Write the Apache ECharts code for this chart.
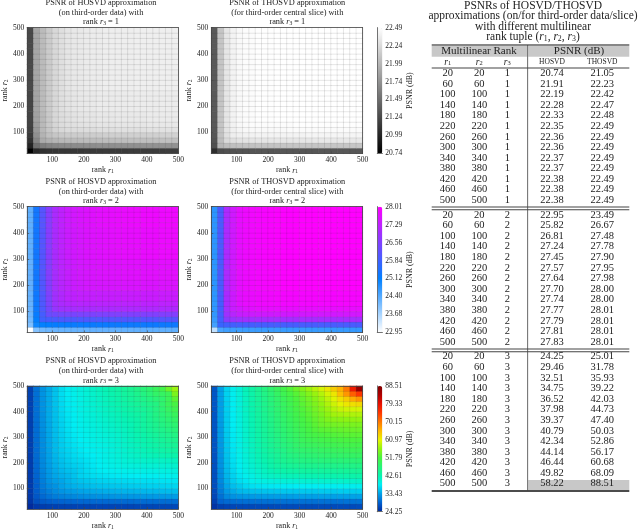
<!DOCTYPE html>
<html><head><meta charset="utf-8">
<style>html,body{margin:0;padding:0;background:#fff}#c{width:640px;height:531px}</style>
<script src="https://cdn.jsdelivr.net/npm/echarts@6/dist/echarts.min.js"></script>
</head><body><div id="c"></div>
<script>
const cellRanks=[20,40,60,80,100,120,140,160,180,200,220,240,260,280,300,320,340,360,380,400,420,440,460,480];
const axisTicks=[100,200,300,400,500];
const tableRanks=[20,60,100,140,180,220,260,300,340,380,420,460,500];
const hosvd1=['20.74','21.91','22.19','22.28','22.33','22.35','22.36','22.36','22.37','22.37','22.38','22.38','22.38'];
const thosvd1=['21.05','22.23','22.42','22.47','22.48','22.49','22.49','22.49','22.49','22.49','22.49','22.49','22.49'];
const hosvd2=['22.95','25.82','26.81','27.24','27.45','27.57','27.64','27.70','27.74','27.77','27.79','27.81','27.83'];
const thosvd2=['23.49','26.67','27.48','27.78','27.90','27.95','27.98','28.00','28.00','28.01','28.01','28.01','28.01'];
const hosvd3=['24.25','29.46','32.51','34.75','36.52','37.98','39.37','40.79','42.34','44.14','46.44','49.82','58.22'];
const thosvd3=['25.01','31.78','35.93','39.22','42.03','44.73','47.40','50.03','52.86','56.17','60.68','68.09','88.51'];
const bar1=[20.74,20.99,21.24,21.49,21.74,21.99,22.24,22.49];
const bar2=[22.95,23.68,24.40,25.12,25.84,26.56,27.29,28.01];
const bar3=[24.25,33.43,42.61,51.79,60.97,70.15,79.33,88.51];

const a0=[20.74,21.02,21.07,21.09,21.10,21.11,21.11,21.12,21.12,21.13,21.13,21.13,21.14,21.14,21.14,21.14,21.15,21.15,21.15,21.15,21.15,21.15,21.16,21.16];
const a1=[20.98,21.50,21.60,21.64,21.66,21.68,21.69,21.70,21.70,21.71,21.71,21.72,21.72,21.72,21.73,21.73,21.73,21.73,21.74,21.74,21.74,21.74,21.74,21.74];
const a2=[21.08,21.66,21.91,21.95,21.98,22.00,22.01,22.02,22.02,22.03,22.03,22.03,22.04,22.04,22.04,22.04,22.05,22.05,22.05,22.05,22.05,22.06,22.06,22.06];
const a3=[21.14,21.73,21.97,22.06,22.10,22.12,22.13,22.14,22.14,22.15,22.15,22.15,22.16,22.16,22.16,22.16,22.17,22.17,22.17,22.17,22.17,22.18,22.18,22.18];
const a4=[21.18,21.78,22.00,22.10,22.19,22.22,22.24,22.25,22.25,22.26,22.26,22.27,22.27,22.27,22.28,22.28,22.28,22.28,22.28,22.29,22.29,22.29,22.29,22.29];
const a5=[21.20,21.82,22.01,22.12,22.21,22.25,22.27,22.28,22.29,22.30,22.30,22.31,22.31,22.31,22.32,22.32,22.32,22.32,22.32,22.33,22.33,22.33,22.33,22.33];
const a6=[21.21,21.85,22.01,22.12,22.22,22.26,22.28,22.30,22.31,22.32,22.32,22.33,22.33,22.33,22.34,22.34,22.34,22.34,22.34,22.35,22.35,22.35,22.35,22.35];
const a8=[21.22,21.87,22.02,22.13,22.22,22.27,22.30,22.32,22.33,22.34,22.34,22.35,22.35,22.35,22.35,22.35,22.36,22.36,22.36,22.36,22.36,22.36,22.36,22.36];
const a12=[21.24,21.88,22.02,22.13,22.22,22.27,22.31,22.33,22.34,22.35,22.36,22.36,22.37,22.37,22.37,22.37,22.37,22.38,22.38,22.38,22.38,22.38,22.38,22.38];
const hosvdRows1=[a0,a1,a2,a3,a4,a5,a6,a6,a8,a8,a8,a8,a12,a12,a12,a12,a12,a12,a12,a12,a12,a12,a12,a12];

const b0=[21.05,21.26,21.29,21.30,21.31,21.31,21.32,21.32,21.32,21.32,21.33,21.33,21.33,21.33,21.33,21.33,21.33,21.34,21.34,21.34,21.34,21.34,21.34,21.34];
const b1=[21.28,21.98,22.03,22.05,22.06,22.07,22.07,22.08,22.08,22.08,22.08,22.09,22.09,22.09,22.09,22.09,22.09,22.09,22.10,22.10,22.10,22.10,22.10,22.10];
const b2=[21.31,22.04,22.23,22.27,22.29,22.30,22.31,22.31,22.31,22.32,22.32,22.32,22.32,22.32,22.32,22.32,22.33,22.33,22.33,22.33,22.33,22.33,22.33,22.33];
const b3=[21.33,22.07,22.28,22.37,22.39,22.40,22.40,22.41,22.41,22.41,22.41,22.41,22.41,22.41,22.41,22.42,22.42,22.42,22.42,22.42,22.42,22.42,22.42,22.42];
const b4=[21.34,22.08,22.30,22.39,22.42,22.44,22.45,22.45,22.45,22.45,22.45,22.45,22.46,22.46,22.46,22.46,22.46,22.46,22.46,22.46,22.46,22.46,22.46,22.46];
const b5=[21.35,22.09,22.31,22.40,22.44,22.46,22.47,22.47,22.47,22.47,22.47,22.47,22.47,22.48,22.48,22.48,22.48,22.48,22.48,22.48,22.48,22.48,22.48,22.48];
const b6=[21.35,22.09,22.32,22.41,22.45,22.47,22.47,22.48,22.48,22.48,22.49,22.49,22.49,22.49,22.49,22.49,22.49,22.49,22.49,22.49,22.49,22.49,22.49,22.49];
const thosvdRows1=[b0,b1,b2,b3,b4,b5,b6,b6,b6,b6,b6,b6,b6,b6,b6,b6,b6,b6,b6,b6,b6,b6,b6,b6];

const c0=[22.95,24.00,24.15,24.20,24.22,24.24,24.25,24.25,24.26,24.26,24.27,24.27,24.27,24.28,24.28,24.28,24.28,24.29,24.29,24.29,24.29,24.30,24.30,24.30];
const c1=[24.05,25.00,25.10,25.15,25.18,25.20,25.20,25.22,25.22,25.23,25.23,25.24,25.24,25.25,25.25,25.25,25.26,25.26,25.26,25.27,25.27,25.27,25.28,25.28];
const c2=[24.15,25.15,25.82,25.90,25.95,25.98,26.00,26.00,26.01,26.02,26.03,26.03,26.04,26.04,26.05,26.05,26.05,26.06,26.06,26.06,26.07,26.07,26.08,26.08];
const c3=[24.20,25.20,25.90,26.30,26.40,26.45,26.48,26.50,26.52,26.53,26.54,26.55,26.55,26.56,26.57,26.57,26.58,26.58,26.59,26.59,26.59,26.60,26.60,26.60];
const c4=[24.22,25.25,25.98,26.42,26.81,26.90,26.95,27.00,27.00,27.02,27.03,27.04,27.05,27.05,27.06,27.06,27.07,27.08,27.08,27.09,27.09,27.10,27.10,27.10];
const c5=[24.25,25.27,26.00,26.50,26.90,27.05,27.12,27.16,27.18,27.19,27.20,27.21,27.22,27.22,27.23,27.23,27.24,27.24,27.24,27.25,27.25,27.25,27.25,27.25];
const c6=[24.25,25.28,26.03,26.55,26.95,27.12,27.24,27.28,27.32,27.33,27.34,27.35,27.36,27.37,27.37,27.38,27.38,27.39,27.39,27.39,27.40,27.40,27.40,27.40];
const c8=[24.27,25.30,26.05,26.60,27.00,27.20,27.30,27.40,27.45,27.50,27.52,27.53,27.54,27.55,27.56,27.57,27.57,27.58,27.58,27.59,27.59,27.60,27.60,27.60];
const c10=[24.28,25.30,26.07,26.62,27.02,27.23,27.35,27.44,27.50,27.54,27.57,27.60,27.62,27.63,27.64,27.65,27.66,27.67,27.67,27.68,27.68,27.69,27.69,27.70];
const c14=[24.30,25.32,26.08,26.65,27.05,27.26,27.40,27.48,27.54,27.60,27.63,27.66,27.68,27.70,27.72,27.73,27.74,27.75,27.76,27.77,27.78,27.79,27.79,27.80];
const c20=[24.30,25.33,26.10,26.66,27.06,27.28,27.42,27.50,27.57,27.62,27.66,27.70,27.72,27.74,27.76,27.77,27.78,27.79,27.80,27.81,27.82,27.82,27.83,27.83];
const hosvdRows2=[c0,c1,c2,c3,c4,c5,c6,c6,c8,c8,c10,c10,c10,c10,c14,c14,c14,c14,c14,c14,c20,c20,c20,c20];

const d0=[23.49,24.50,24.58,24.60,24.61,24.62,24.62,24.63,24.63,24.64,24.64,24.64,24.65,24.65,24.65,24.66,24.66,24.66,24.66,24.67,24.67,24.67,24.68,24.68];
const d1=[24.55,25.75,25.85,25.88,25.89,25.90,25.90,25.91,25.91,25.92,25.92,25.92,25.93,25.93,25.93,25.93,25.94,25.94,25.94,25.94,25.95,25.95,25.95,25.95];
const d2=[24.65,25.85,26.67,26.85,26.90,26.95,26.96,26.97,26.97,26.98,26.98,26.98,26.98,26.99,26.99,26.99,26.99,26.99,27.00,27.00,27.00,27.00,27.00,27.00];
const d3=[24.70,25.88,26.90,27.20,27.35,27.40,27.42,27.45,27.46,27.46,27.47,27.47,27.48,27.48,27.48,27.49,27.49,27.49,27.49,27.50,27.50,27.50,27.50,27.50];
const d4=[24.72,25.90,27.00,27.38,27.48,27.62,27.66,27.70,27.71,27.72,27.72,27.73,27.73,27.73,27.74,27.74,27.74,27.74,27.75,27.75,27.75,27.75,27.75,27.75];
const d5=[24.72,25.90,27.05,27.42,27.66,27.75,27.76,27.82,27.83,27.84,27.85,27.85,27.86,27.86,27.86,27.87,27.87,27.87,27.87,27.88,27.88,27.88,27.88,27.88];
const d6=[24.74,25.92,27.05,27.44,27.68,27.76,27.78,27.82,27.84,27.86,27.88,27.89,27.89,27.90,27.90,27.90,27.91,27.91,27.91,27.91,27.92,27.92,27.92,27.92];
const d8=[24.75,25.95,27.07,27.46,27.72,27.80,27.85,27.88,27.90,27.92,27.95,27.96,27.97,27.98,27.98,27.98,27.99,27.99,27.99,28.00,28.00,28.00,28.00,28.00];
const d12=[24.75,25.95,27.07,27.47,27.73,27.81,27.86,27.90,27.92,27.94,27.96,27.97,27.98,27.99,28.00,28.00,28.00,28.01,28.01,28.01,28.01,28.01,28.01,28.01];
const thosvdRows2=[d0,d1,d2,d3,d4,d5,d6,d6,d8,d8,d8,d8,d12,d12,d12,d12,d12,d12,d12,d12,d12,d12,d12,d12];

const hosvdRows3=[
[24.3,25.4,25.8,26,26.1,26.2,26.3,26.3,26.4,26.4,26.4,26.5,26.5,26.5,26.5,26.5,26.5,26.6,26.6,26.6,26.6,26.7,26.7,26.8],
[25.2,27.4,28.2,28.6,28.9,29,29.1,29.2,29.3,29.3,29.4,29.4,29.4,29.5,29.5,29.5,29.5,29.6,29.6,29.6,29.6,29.7,29.7,29.8],
[25.5,28.1,29.5,30.3,30.9,31.3,31.6,31.8,32,32.2,32.3,32.4,32.5,32.6,32.7,32.7,32.8,32.8,32.9,32.9,33,33,33.1,33.2],
[25.6,28.5,30.2,31.1,32,32.6,33,33.3,33.6,33.8,34,34.1,34.3,34.4,34.5,34.6,34.6,34.7,34.8,34.9,34.9,35,35.1,35.2],
[25.7,28.7,30.7,31.9,32.5,33.5,34.1,34.5,34.8,35.1,35.3,35.5,35.6,35.7,35.8,35.9,36,36.1,36.2,36.3,36.3,36.4,36.5,36.6],
[25.7,28.9,31,32.4,33.3,33.7,34.5,35.1,35.5,35.8,36.1,36.3,36.5,36.6,36.7,36.8,36.9,37,37.1,37.1,37.2,37.3,37.4,37.5],
[25.8,29.1,31.3,32.8,33.8,34.4,34.8,35.5,36.3,36.6,37,37.2,37.4,37.6,37.7,37.8,37.9,38,38.1,38.2,38.3,38.4,38.5,38.6],
[25.8,29.3,31.5,33,34.1,34.8,35.3,35.7,36.3,36.9,37.4,37.8,38.1,38.3,38.5,38.6,38.8,38.9,39,39.1,39.2,39.3,39.4,39.5],
[25.9,29.4,31.7,33.2,34.4,35.2,35.7,36.2,36.5,37.1,37.6,38.1,38.5,38.9,39.2,39.5,39.6,39.8,39.9,40.1,40.2,40.3,40.4,40.6],
[25.9,29.5,31.8,33.4,34.6,35.4,36,36.6,36.9,37.3,37.8,38.3,38.8,39.2,39.6,40,40.3,40.6,40.8,41,41.1,41.2,41.4,41.6],
[25.9,29.6,31.9,33.5,34.8,35.7,36.3,36.9,37.3,37.7,38,38.5,39,39.5,40,40.4,40.8,41.2,41.6,41.9,42.2,42.5,42.8,43],
[26,29.6,32,33.6,35,35.9,36.5,37.1,37.6,38,38.4,38.7,39.1,39.6,40.1,40.6,41.1,41.5,42,42.5,42.9,43.3,43.7,44],
[26,29.7,32,33.7,35,36,36.7,37.3,37.8,38.3,38.7,39,39.4,39.9,40.4,40.9,41.4,41.9,42.4,42.9,43.4,43.9,44.4,44.8],
[26,29.7,32.1,33.8,35.1,36.1,36.9,37.5,38,38.5,39,39.4,39.7,40.1,40.6,41.1,41.7,42.3,42.8,43.3,43.9,44.4,45,45.5],
[26.1,29.8,32.1,33.8,35.2,36.2,37,37.7,38.2,38.7,39.2,39.6,40,40.4,40.8,41.3,41.9,42.5,43.1,43.8,44.4,45,45.6,46.2],
[26.1,29.8,32.2,33.9,35.2,36.3,37.2,37.9,38.4,38.9,39.4,39.8,40.3,40.7,41.2,41.6,42.2,42.9,43.6,44.3,45,45.6,46.3,47],
[26.1,29.8,32.2,33.9,35.3,36.4,37.3,38,38.6,39.1,39.6,40,40.5,41,41.5,41.9,42.3,43,43.8,44.6,45.4,46.2,47,47.8],
[26.1,29.9,32.3,34,35.3,36.5,37.4,38.1,38.7,39.3,39.8,40.3,40.8,41.3,41.8,42.2,42.7,43.2,44,44.9,45.8,46.7,47.6,48.6],
[26.1,29.9,32.3,34,35.4,36.6,37.5,38.2,38.9,39.5,40,40.5,41.1,41.6,42.1,42.6,43.1,43.6,44.1,45.1,46.2,47.2,48.3,49.5],
[26.2,29.9,32.4,34,35.4,36.7,37.6,38.3,39,39.6,40.2,40.8,41.3,41.9,42.4,43,43.5,44,44.6,45.3,46.3,47.6,49,50.5],
[26.2,30,32.4,34,35.5,36.8,37.7,38.4,39.1,39.8,40.4,41,41.6,42.2,42.8,43.3,43.9,44.5,45.1,45.8,46.4,48,49.7,51.5],
[26.2,30,32.4,34,35.5,36.9,37.8,38.5,39.2,39.9,40.6,41.2,41.8,42.4,43,43.7,44.3,45,45.7,46.5,47.4,48,49.8,53],
[26.3,30,32.5,34,35.5,37,37.9,38.7,39.4,40,40.8,41.4,42,42.7,43.3,44,44.6,45.4,46.3,47.3,48.5,49,49.8,55],
[26.3,30.1,32.5,34,35.5,37,38,38.8,39.5,40.2,41,41.7,42.3,43,43.7,44.3,45,46,47,48,49.5,51,54,57]];

const thosvdRows3=[
[25,26,26.4,26.6,26.7,26.8,26.8,26.9,26.9,26.9,27,27,27,27,27,27,27,27,27,27,27,27,27,27.1],
[26,29,29.5,29.7,29.8,29.9,29.9,29.9,30,30,30,30,30,30,30,30,30,30,30,30,30,30.1,30.1,30.2],
[26.6,30,31.8,32.4,32.7,32.9,33,33.1,33.2,33.2,33.3,33.3,33.3,33.4,33.4,33.4,33.4,33.5,33.5,33.5,33.5,33.5,33.6,33.6],
[27,30.8,33,34,34.8,35.1,35.3,35.4,35.5,35.6,35.6,35.7,35.7,35.7,35.8,35.8,35.8,35.9,35.9,35.9,36,36,36,36.1],
[27.2,31.3,33.8,35.2,35.9,36.8,37.2,37.4,37.6,37.7,37.8,37.9,37.9,38,38,38.1,38.1,38.2,38.2,38.3,38.3,38.4,38.4,38.5],
[27.3,31.8,34.4,36,37,37.6,38.6,39,39.3,39.6,39.8,40,40.1,40.2,40.3,40.4,40.5,40.6,40.7,40.7,40.8,40.9,41,41.1],
[27.4,32,34.7,36.4,37.5,38.5,39.2,40.1,40.8,41.2,41.5,41.8,42,42.1,42.3,42.4,42.5,42.6,42.7,42.8,42.9,43,43.1,43.2],
[27.5,32.2,35,36.7,37.9,39,39.9,40.7,41.5,42.2,42.7,43.1,43.4,43.6,43.8,43.9,44,44.1,44.2,44.3,44.4,44.5,44.6,44.7],
[27.5,32.4,35.2,37,38.2,39.4,40.4,41.3,42,43,43.7,44.2,44.6,44.9,45.1,45.3,45.4,45.5,45.6,45.7,45.8,45.9,46,46.1],
[27.6,32.5,35.4,37.2,38.5,39.7,40.8,41.8,42.7,43.4,44.4,45.1,45.6,46,46.3,46.5,46.7,46.9,47,47.1,47.2,47.3,47.4,47.5],
[27.6,32.6,35.5,37.4,38.7,40,41.1,42.2,43.1,44,44.7,45.6,46.3,46.8,47.2,47.5,47.8,48,48.2,48.4,48.5,48.7,48.8,49],
[27.7,32.7,35.6,37.5,38.9,40.2,41.4,42.5,43.5,44.4,45.2,46,47,47.6,48,48.3,48.6,48.9,49.1,49.3,49.5,49.7,49.9,50],
[27.7,32.8,35.7,37.6,39,40.4,41.6,42.8,43.8,44.8,45.7,46.6,47.4,48.3,48.9,49.3,49.6,49.9,50.2,50.4,50.6,50.8,50.9,51],
[27.8,32.9,35.8,37.7,39.1,40.6,41.8,43,44.1,45.1,46,47,47.9,48.7,49.6,50.1,50.5,50.8,51.1,51.4,51.6,51.8,51.9,52],
[27.8,33,35.9,37.8,39.2,40.7,42,43.2,44.3,45.4,46.4,47.4,48.3,49.2,50,50.9,51.4,51.8,52.1,52.4,52.6,52.8,52.9,53],
[27.8,33,36,37.9,39.3,40.8,42.1,43.4,44.5,45.6,46.7,47.7,48.7,49.6,50.5,51.4,52.3,52.8,53.1,53.4,53.6,53.8,53.9,54],
[27.9,33.1,36,38,39.4,40.9,42.3,43.6,44.7,45.8,47,48,49,50,51,51.9,52.9,53.8,54.2,54.5,54.7,54.8,54.9,55],
[27.9,33.2,36.1,38,39.5,41,42.4,43.7,44.9,46,47.2,48.3,49.4,50.4,51.4,52.4,53.4,54.4,55.3,55.8,56,56.2,56.3,56.5],
[27.9,33.2,36.1,38.1,39.6,41.1,42.6,43.9,45.1,46.3,47.5,48.6,49.7,50.8,51.9,52.9,54,55,56.2,57.2,57.5,57.8,57.9,58],
[27.9,33.3,36.2,38.1,39.7,41.3,42.7,44,45.3,46.5,47.8,48.9,50,51.2,52.3,53.4,54.6,55.8,57,58.3,59.2,59.6,59.8,60],
[28,33.3,36.2,38.2,39.7,41.4,42.9,44.2,45.5,46.8,48,49.2,50.4,51.6,52.8,54,55.2,56.5,58,59.5,60.7,62,62.6,63],
[28,33.4,36.3,38.3,39.8,41.5,43,44.4,45.7,47,48.3,49.6,50.8,52,53.3,54.5,55.8,57.2,58.8,60.5,62.5,64,66.5,68],
[28,33.4,36.4,38.4,39.9,41.7,43.2,44.7,46,47.4,48.8,50.2,51.4,52.7,54,55.4,56.8,58.2,60,62,65,68,72,75],
[28,33.5,36.5,38.5,40,42,43.5,45,46.5,48,49.5,51,52.5,54,55.5,57,58.5,60,62,64,66,70,78,86]];

const panelTitleLeft=['PSNR of HOSVD approximation','(on third-order data) with'];
const panelTitleRight=['PSNR of THOSVD approximation','(for third-order central slice) with'];

const SERIF='"Liberation Serif",serif', INK='#222';
function richAt(size,lh){const t={fontFamily:SERIF,fontSize:size,color:INK,lineHeight:lh};return {t,
  i:{...t,fontStyle:'italic'},
  s:{fontFamily:SERIF,fontSize:size*0.68,color:INK,lineHeight:lh,padding:[size*0.3,0,0,0]}};}

const rowsTop=[27.7,206.7,386], plotH=125.7, plotW=151.3, colLeft=[27,211.3];
const cbLeft=377.3, cbW=5;
const visual=[
  {colors:['#000000','#ffffff'],data:bar1,series:[0,1]},
  {colors:['#ffffff','#aad5ff','#55aaff','#0080ff','#4060ff','#8040ff','#c020ff','#ff00ff'],data:bar2,series:[2,3]},
  {colors:['#002a9e','#0060d0','#00a0e8','#00eef4','#08f4b0','#28f478','#48f440','#90f410','#e8f400','#ffb800','#ff7800','#ff3800','#e81000','#b00000','#800000'],data:bar3,series:[4,5]}
];
const matrices=[hosvdRows1,thosvdRows1,hosvdRows2,thosvdRows2,hosvdRows3,thosvdRows3];

const grid=[],xAxis=[],yAxis=[],series=[],title=[],visualMap=[];
const frame={show:true,lineStyle:{color:'#444',width:0.8}};
const tickLabel={fontFamily:SERIF,fontSize:7.5,color:INK,customValues:axisTicks,margin:3};
function addPlot(row,col,idx){
  const g=grid.length;
  grid.push({left:colLeft[col],top:rowsTop[row],width:plotW,height:plotH,containLabel:false});
  // hidden category axes carry the cells; value axes carry the ticks
  xAxis.push({gridIndex:g,type:'category',data:cellRanks.map(String),position:'top',z:5,axisLine:frame,axisTick:{show:false},axisLabel:{show:false},splitLine:{show:false}});
  yAxis.push({gridIndex:g,type:'category',data:cellRanks.map(String),position:'right',z:5,axisLine:frame,axisTick:{show:false},axisLabel:{show:false},splitLine:{show:false}});
  const xi=xAxis.length, yi=yAxis.length;
  xAxis.push({gridIndex:g,type:'value',min:20,max:500,position:'bottom',z:5,axisLine:frame,
    axisTick:{show:true,inside:true,length:2,customValues:axisTicks,lineStyle:{color:'#444',width:0.6}},
    axisLabel:tickLabel,splitLine:{show:false},
    name:'rank {i|r}{s|1}',nameLocation:'middle',nameGap:12,nameTextStyle:{fontFamily:SERIF,fontSize:8,color:INK,rich:richAt(8,10)}});
  yAxis.push({gridIndex:g,type:'value',min:20,max:500,position:'left',z:5,axisLine:frame,
    axisTick:{show:true,inside:true,length:2,customValues:axisTicks,lineStyle:{color:'#444',width:0.6}},
    axisLabel:tickLabel,splitLine:{show:false},
    name:'rank {i|r}{s|2}',nameLocation:'middle',nameGap:16,nameTextStyle:{fontFamily:SERIF,fontSize:8,color:INK,rich:richAt(8,10)}});
  const m=matrices[idx], data=[];
  m.forEach((r,j)=>r.forEach((v,i)=>data.push([i,j,v])));
  series.push({type:'heatmap',xAxisIndex:xi-1,yAxisIndex:yi-1,data,progressive:0,animation:false,
    itemStyle:{borderColor:'rgba(70,70,70,0.18)',borderWidth:0.6},emphasis:{disabled:true}});
  const lines=(col===0?panelTitleLeft:panelTitleRight).concat(['rank {i|r}{s|3} = '+(row+1)]);
  title.push({text:lines.join('\n'),left:col===0?101:287.3,top:rowsTop[row]-29.5,textAlign:'center',padding:0,
    textStyle:{fontFamily:SERIF,fontSize:8.3,fontWeight:'normal',color:INK,lineHeight:9.6,rich:richAt(8.3,9.6)}});
}
[0,1,2].forEach(r=>{addPlot(r,0,r*2);addPlot(r,1,r*2+1);
  const v=visual[r],mn=v.data[0],mx=v.data[v.data.length-1];
  visualMap.push({type:'continuous',min:mn,max:mx,seriesIndex:v.series,inRange:{color:v.colors},left:cbLeft,top:rowsTop[r],itemWidth:cbW,itemHeight:plotH,text:null,showLabel:false,calculable:false,hoverLink:false,realtime:false,padding:0,z:3,textStyle:{fontSize:0}});
  const g=grid.length;
  grid.push({left:cbLeft,top:rowsTop[r],width:cbW,height:plotH});
  xAxis.push({gridIndex:g,type:'value',min:0,max:1,position:'top',z:6,axisLine:{show:true,lineStyle:{color:'#666',width:0.7}},axisTick:{show:false},axisLabel:{show:false},splitLine:{show:false}});
  xAxis.push({gridIndex:g,type:'value',min:0,max:1,position:'bottom',z:6,axisLine:{show:true,lineStyle:{color:'#666',width:0.7}},axisTick:{show:false},axisLabel:{show:false},splitLine:{show:false}});
  yAxis.push({gridIndex:g,type:'value',min:0,max:1,position:'left',z:6,axisLine:{show:true,lineStyle:{color:'#666',width:0.7}},axisTick:{show:false},axisLabel:{show:false},splitLine:{show:false}});
  yAxis.push({gridIndex:g,type:'value',min:mn,max:mx,position:'right',z:6,axisLine:{show:true,lineStyle:{color:'#666',width:0.7}},
    axisTick:{show:false},splitLine:{show:false},
    axisLabel:{fontFamily:SERIF,fontSize:7.5,color:INK,margin:3,customValues:v.data,formatter:x=>Number(x).toFixed(2)},
    name:'PSNR (dB)',nameLocation:'middle',nameRotate:90,nameGap:24,nameTextStyle:{fontFamily:SERIF,fontSize:8,color:INK}});
});

// table
const tg=[];
const txt=(s,x,y,size,extra)=>tg.push({type:'text',silent:true,z:10,style:Object.assign({text:s,x,y,align:'center',verticalAlign:'middle',fontFamily:SERIF,fontSize:size,fill:INK},extra||{})});
const rect=(x,y,w,h,fill)=>tg.push({type:'rect',silent:true,z:8,shape:{x,y,width:w,height:h},style:{fill}});
const tL=431.7,tR=629.3,vX=527.7;
const colX=[447.7,479.3,507.3,552,602.3];
const tTitle=['PSNRs of HOSVD/THOSVD','approximations (on/for third-order data/slice)','with different multilinear'];
title.push({text:tTitle.concat(['rank tuple ({i|r}{s|1}, {i|r}{s|2}, {i|r}{s|3})']).join('\n'),left:533,top:0.5,textAlign:'center',padding:0,
  textStyle:{fontFamily:SERIF,fontSize:11.5,fontWeight:'normal',color:INK,lineHeight:10.45,rich:richAt(11.5,10.45)}});
rect(tL,46,vX-tL-0.5,10.7,'#c8c8c8'); rect(vX+0.5,46,tR-vX-0.5,10.7,'#c8c8c8');
rect(vX+0.5,480,tR-vX-0.5,10,'#c8c8c8');
rect(tL,44.4,tR-tL,1.2,'#111');
rect(tL,67.6,tR-tL,0.8,'#444');
[207,209.7,349,351.7].forEach(y=>rect(tL,y-0.4,tR-tL,0.9,'#444'));
rect(tL,490.3,tR-tL,1.4,'#111');
rect(vX-0.4,45,0.8,446,'#444');
txt('Multilinear Rank',479,50.9,11); txt('PSNR (dB)',579,50.9,11);
const subRich=richAt(9.5,11);
[1,2,3].forEach((n,k)=>txt('{i|r}{s|'+n+'}',colX[k],62.3,9.5,{rich:subRich}));
txt('HOSVD',colX[3],62.3,7.5); txt('THOSVD',colX[4],62.3,7.5);
[[hosvd1,thosvd1,1,73.3],[hosvd2,thosvd2,2,215],[hosvd3,thosvd3,3,356.7]].forEach(([h,t,r,y0])=>{
  tableRanks.forEach((rk,k)=>{const y=y0+k*10.58;
    txt(String(rk),colX[0],y,10.5);txt(String(rk),colX[1],y,10.5);txt(String(r),colX[2],y,10.5);
    txt(h[k],colX[3],y,10.5);txt(t[k],colX[4],y,10.5);});
});

const chart=echarts.init(document.getElementById('c'),null,{renderer:'canvas'});
chart.setOption({animation:false,backgroundColor:'#fff',tooltip:{show:false},title,grid,xAxis,yAxis,visualMap,series,graphic:{elements:tg}});
</script></body></html>
